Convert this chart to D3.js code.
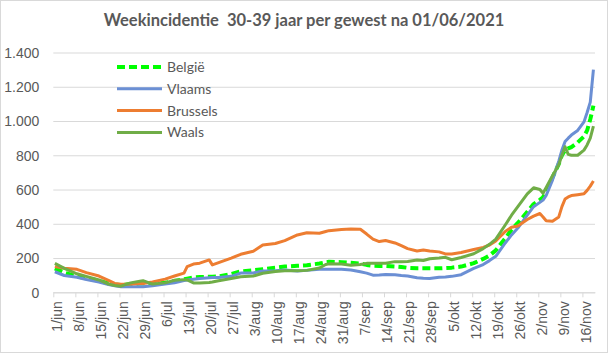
<!DOCTYPE html>
<html>
<head>
<meta charset="utf-8">
<script src="https://cdn.jsdelivr.net/npm/d3@7"></script>
<style>
	body { margin: 0; background: #fff; }
	svg { display: block; font-family: Lato, "Open Sans", sans-serif; }
	.axis text { fill: #595959; font-size: 14px; }
	.axis path, .axis line { stroke: #d9d9d9; }
</style>
</head>
<body>
<div id="chart"></div>
<script>
"use strict";

// day index since 1/jun (sample days)
var days = [0, 3, 7, 10, 14, 17, 19, 21, 24, 27, 28, 31, 35, 38, 41, 42, 44, 46, 49, 50,
	52, 56, 59, 63, 66, 70, 73, 77, 80, 84, 86, 87, 91, 94, 97, 99, 101, 103, 105, 108,
	110, 112, 115, 117, 119, 122, 124, 126, 129, 133, 136, 138, 140, 143, 145, 147, 150, 152, 154, 155,
	156, 158, 160, 161, 162, 163, 164, 166, 168, 169, 170, 171];

var belgie = [140, 115, 93, 82, 68, 52, 46, 43, 48, 52, 52, 52, 56, 66, 76, 80, 87, 89, 91, 91,
	92, 107, 122, 129, 135, 143, 150, 155, 158, 168, 175, 178, 176, 172, 168, 160, 155, 154, 154, 151,
	148, 143, 140, 140, 140, 140, 142, 144, 150, 170, 195, 215, 245, 315, 365, 405, 470, 515, 540, 555,
	590, 670, 750, 800, 830, 840, 848, 875, 910, 945, 1010, 1090];

var vlaams = [120, 98, 88, 75, 60, 45, 38, 33, 32, 32, 32, 38, 48, 56, 68, 72, 76, 80, 85, 86,
	87, 93, 112, 113, 124, 126, 130, 124, 128, 134, 134, 134, 134, 130, 120, 112, 100, 101, 104, 102,
	98, 95, 85, 82, 80, 88, 90, 93, 103, 140, 162, 185, 210, 288, 335, 375, 450, 500, 525, 538,
	565, 655, 765, 830, 880, 900, 918, 945, 995, 1050, 1110, 1300];

var brussels = [150, 140, 134, 115, 95, 70, 52, 47, 48, 52, 52, 60, 77, 95, 112, 150, 165, 170, 189, 160,
	173, 200, 222, 240, 276, 285, 302, 335, 348, 345, 355, 360, 367, 369, 368, 340, 310, 296, 302, 288,
	272, 255, 241, 247, 241, 236, 224, 224, 232, 250, 262, 276, 300, 355, 380, 387, 425, 445, 460, 440,
	418, 415, 440, 500, 545, 557, 565, 570, 575, 595, 620, 650];

var waals = [169, 140, 108, 93, 72, 48, 40, 36, 55, 65, 68, 48, 55, 70, 74, 72, 55, 55, 57, 60,
	67, 80, 91, 95, 111, 122, 126, 126, 128, 142, 162, 166, 165, 158, 162, 169, 169, 169, 170, 179,
	179, 180, 188, 186, 196, 200, 204, 190, 203, 225, 255, 280, 310, 393, 450, 500, 575, 610, 600, 578,
	612, 680, 745, 800, 850, 805, 800, 800, 830, 860, 900, 970];

var seriesNames = ["België", "Vlaams", "Brussels", "Waals"];
var seriesColors = ["#00ff00", "#6b8fd4", "#ed7d31", "#70ad47"];

var tickDays = [0, 7, 14, 21, 28, 35, 42, 49, 56, 63, 70, 77, 84, 91, 98, 105, 112, 119, 126, 133, 140, 147, 154, 161, 168];
var tickLabels = ["1/jun", "8/jun", "15/jun", "22/jun", "29/jun", "6/jul", "13/jul", "20/jul", "27/jul",
	"3/aug", "10/aug", "17/aug", "24/aug", "31/aug", "7/sep", "14/sep", "21/sep", "28/sep",
	"5/okt", "12/okt", "19/okt", "26/okt", "2/nov", "9/nov", "16/nov"];
var yTicks = [0, 200, 400, 600, 800, 1000, 1200, 1400];

var W = 608, H = 353;
var plot = {left: 53.3, right: 595, top: 52.5, bottom: 292.3};
var nDays = 172;

var svg = d3.select("#chart").append("svg")
	.attr("width", W)
	.attr("height", H);

svg.append("rect")
	.attr("x", 0.5).attr("y", 0.5)
	.attr("width", W - 1).attr("height", H - 1)
	.attr("fill", "#fff")
	.attr("stroke", "#d9d9d9");

var x = d3.scaleLinear().domain([-0.5, nDays - 0.5]).range([plot.left, plot.right]);
var y = d3.scaleLinear().domain([0, 1400]).range([plot.bottom, plot.top]);
var step = x(1) - x(0);

var nl = d3.formatLocale({decimal: ",", thousands: ".", grouping: [3], currency: ["€", ""]});

// y axis + gridlines
var yAxis = svg.append("g")
	.attr("class", "axis")
	.attr("transform", "translate(" + plot.left + ",0)")
	.call(d3.axisLeft(y)
		.tickValues(yTicks)
		.tickSizeInner(-(plot.right - plot.left))
		.tickSizeOuter(0)
		.tickPadding(14)
		.tickFormat(nl.format(",d")));
yAxis.select(".domain").remove();
yAxis.selectAll("text").attr("dy", "0.35em");

// x axis
var xAxis = svg.append("g")
	.attr("class", "axis")
	.attr("transform", "translate(0," + plot.bottom + ")")
	.call(d3.axisBottom(x)
		.tickValues(tickDays)
		.tickSizeInner(5)
		.tickSizeOuter(0)
		.tickFormat(function(d, i) { return tickLabels[i]; }));
xAxis.selectAll(".tick line")
	.attr("x1", -step / 2)
	.attr("x2", -step / 2);
xAxis.selectAll(".tick text")
	.attr("transform", "rotate(-90)")
	.attr("x", -9)
	.attr("y", 0)
	.attr("dy", "0.45em")
	.style("text-anchor", "end");

// lines
var allSeries = [belgie, vlaams, brussels, waals];
var line = d3.line()
	.x(function(d, i) { return x(days[i]); })
	.y(function(d) { return y(d); });

allSeries.forEach(function(values, k) {
	svg.append("path")
		.datum(values)
		.attr("fill", "none")
		.attr("stroke", seriesColors[k])
		.attr("stroke-width", k === 0 ? 4 : 3)
		.attr("stroke-dasharray", k === 0 ? "8,4" : null)
		.attr("stroke-linejoin", "round")
		.attr("d", line);
});

// legend
var legend = svg.append("g").attr("transform", "translate(117,67)");
seriesNames.forEach(function(name, k) {
	var g = legend.append("g").attr("transform", "translate(0," + (k * 21.8) + ")");
	g.append("line")
		.attr("x1", 0).attr("x2", 45)
		.attr("stroke", seriesColors[k])
		.attr("stroke-width", k === 0 ? 4 : 3)
		.attr("stroke-dasharray", k === 0 ? "8,4" : null);
	g.append("text")
		.attr("x", 50)
		.attr("dy", "0.35em")
		.attr("fill", "#595959")
		.style("font-size", "14px")
		.text(name);
});

// title (double space kept)
svg.append("text")
	.attr("x", W / 2)
	.attr("y", 26)
	.attr("text-anchor", "middle")
	.attr("fill", "#595959")
	.style("font-size", "16.5px")
	.style("font-weight", "bold")
	.style("white-space", "pre")
	.text("Weekincidentie  30-39 jaar per gewest na 01/06/2021");
</script>
</body>
</html>
